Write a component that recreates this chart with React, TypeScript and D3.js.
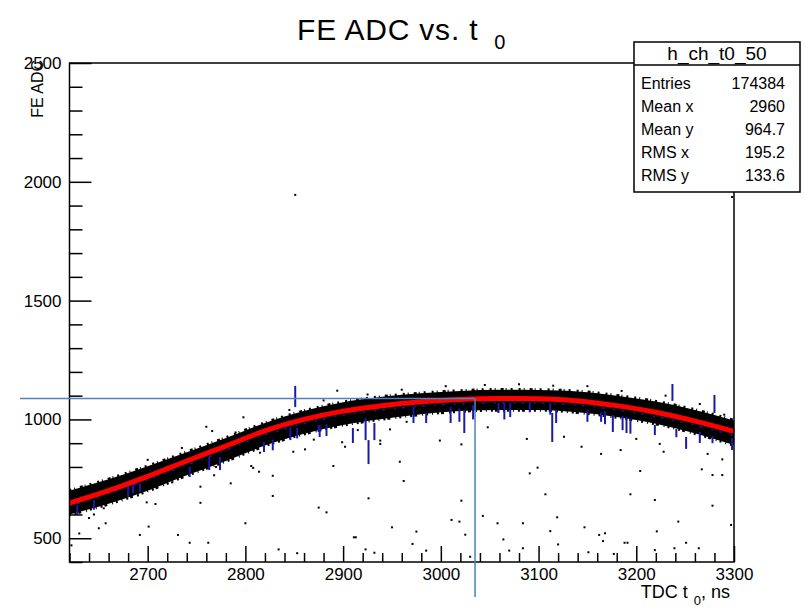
import React, { useEffect, useRef } from 'react';
import * as d3 from 'd3';

// axis ticks
const xTicks = [2700, 2800, 2900, 3000, 3100, 3200, 3300];
const yTicks = [500, 1000, 1500, 2000, 2500];

// stats box
const statsTitle = 'h_ch_t0_50';
const statsLabels = ['Entries', 'Mean x', 'Mean y', 'RMS x', 'RMS y'];
const statsValues = ['174384', '2960', '964.7', '195.2', '133.6'];

// x positions of the band samples
const bandX = [2620, 2660, 2700, 2740, 2780, 2820, 2860, 2900, 2940, 2980, 3020, 3060, 3100, 3140, 3180, 3220, 3260, 3300];
const bandHi = [700, 748, 803, 862, 922, 985, 1035, 1072, 1095, 1110, 1120, 1125, 1124, 1118, 1100, 1075, 1040, 995];
const bandLo = [600, 645, 700, 765, 825, 890, 940, 977, 1002, 1022, 1035, 1040, 1040, 1030, 1010, 982, 942, 892];
const fitY = [648, 700, 760, 825, 888, 952, 1000, 1035, 1058, 1074, 1084, 1088, 1087, 1078, 1058, 1030, 993, 950];
const profY = [635, 688, 745, 808, 870, 935, 982, 1018, 1040, 1056, 1066, 1070, 1069, 1060, 1040, 1012, 975, 932];

// isolated entries [x, y]
const outliers = [
  [2798, 1009], [2760, 969], [2766, 951], [2655, 626], [2657, 563], [2650, 542], [2699, 651], [2708, 644],
  [2701, 549], [2692, 514], [2731, 514], [2743, 481], [2762, 481], [2754, 717], [2754, 649], [2768, 765],
  [2785, 731], [2800, 563], [2828, 763], [2828, 678], [2849, 864], [2861, 874], [2875, 629], [2806, 804],
  [2808, 796], [2814, 780], [2834, 453], [2853, 437], [2894, 1121], [2890, 804], [2899, 904], [2902, 885],
  [2926, 668], [2938, 911], [2938, 897], [2948, 958], [2958, 822], [2962, 741], [2883, 609], [2911, 504],
  [2913, 504], [2923, 453], [2932, 439], [2950, 546], [2971, 476], [2975, 528], [2985, 448], [2999, 911],
  [3011, 577], [3019, 570], [3021, 658], [3021, 895], [3025, 515], [3030, 422], [3043, 594], [3048, 967],
  [3058, 563], [3064, 495], [3070, 448], [3084, 563], [3084, 458], [3088, 918], [3091, 773], [3099, 797],
  [3107, 685], [3112, 530], [3119, 588], [3120, 474], [3126, 927], [3144, 885], [3151, 441], [3164, 855],
  [3147, 546], [3162, 514], [3168, 521], [3166, 488], [3177, 434], [3184, 871], [3188, 481], [3191, 481],
  [3194, 685], [3204, 783], [3200, 918], [3219, 661], [3221, 529], [3219, 450], [3224, 897], [3228, 864],
  [3239, 458], [3243, 570], [3251, 481], [3264, 458], [3267, 790], [3273, 855], [3278, 766], [3278, 637],
  [3288, 832], [3288, 766], [3297, 556], [2851, 1945], [3298, 1936], [2622, 470], [2630, 520], [2640, 585],
  [2700, 830], [2735, 880], [2790, 945], [2845, 1040], [2880, 1080], [2925, 1105], [2960, 1125], [3005, 1140],
  [3045, 1145], [3080, 1148], [3115, 1142], [3150, 1140], [3185, 1120], [3230, 1100], [3265, 1065], [3290, 1020],
  [2645, 600], [2690, 680], [2725, 735], [2770, 800], [2815, 860], [2870, 915], [2915, 955], [2965, 990],
];

// profile error bars [x, low, high]
const profBars = [
  [2851, 1052, 1141], [2875, 947, 977], [2774, 787, 842], [2763, 787, 842], [2743, 758, 800], [2692, 695, 732],
  [2680, 674, 724], [2685, 690, 735], [2819, 863, 905], [2828, 870, 915], [2846, 913, 968], [2853, 920, 965],
  [2876, 926, 977], [2883, 930, 980], [2910, 901, 964], [2923, 913, 1006], [2926, 812, 913], [2932, 913, 985],
  [2972, 985, 1052], [2985, 985, 1027], [3010, 985, 1052], [3019, 990, 1045], [3024, 943, 1040], [3033, 1000, 1060],
  [3059, 1027, 1069], [3065, 1000, 1069], [3071, 1010, 1069], [3091, 1030, 1075], [3112, 1020, 1070], [3114, 905, 1027],
  [3118, 985, 1040], [3150, 990, 1040], [3164, 990, 1030], [3168, 980, 1035], [3176, 947, 1019], [3186, 955, 1015],
  [3190, 943, 1010], [3194, 940, 1005], [3219, 934, 977], [3237, 1078, 1149], [3241, 925, 960], [3251, 876, 926],
  [3265, 901, 947], [3280, 1027, 1103], [3278, 900, 930], [3298, 871, 922], [2628, 600, 640], [2645, 620, 660],
];

// crosshair position
const crossX = 3035;
const crossY = 1088;

const W = 805;
const H = 610;
const frame = { left: 69.5, right: 734, top: 63, bottom: 562 };
const font = "'Liberation Sans', Arial, Helvetica, sans-serif";

const App = () => {
  const ref = useRef<SVGSVGElement>(null);

  useEffect(() => {
    const svg = d3.select(ref.current);
    svg.selectAll('*').remove();

    const x = d3.scaleLinear().domain([2620, 3300]).range([frame.left, frame.right]);
    const y = d3.scaleLinear().domain([400, 2500]).range([frame.bottom, frame.top]);

    svg.append('rect').attr('width', W).attr('height', H).attr('fill', '#fff');

    const plot = svg.append('g');

    // dense band of entries
    const idx = d3.range(bandX.length);
    const band = d3.area<number>()
      .x(i => x(bandX[i]))
      .y0(i => y(bandLo[i]))
      .y1(i => y(bandHi[i]))
      .curve(d3.curveMonotoneX);
    plot.append('path').attr('d', band(idx)).attr('fill', '#000');

    const edge = (arr: number[]) => d3.line<number>()
      .x(i => x(bandX[i]))
      .y(i => y(arr[i]))
      .curve(d3.curveMonotoneX)(idx);
    [bandHi, bandLo].forEach((arr, k) => {
      plot.append('path').attr('d', edge(arr)).attr('fill', 'none')
        .attr('stroke', '#000').attr('stroke-width', 3.5)
        .attr('stroke-dasharray', k === 0 ? '2 3 1 5 3 2 1 4 2 6' : '1 4 2 2 3 5 1 3 2 4');
    });

    // profile
    plot.append('path').attr('d', edge(profY)).attr('fill', 'none')
      .attr('stroke', '#1a1aa6').attr('stroke-width', 1.5).attr('stroke-dasharray', '2 6 3 9');

    plot.selectAll('.pbar').data(profBars).enter().append('line')
      .attr('x1', d => x(d[0])).attr('x2', d => x(d[0]))
      .attr('y1', d => y(d[1])).attr('y2', d => y(d[2]))
      .attr('stroke', '#1a1aa6').attr('stroke-width', 2);

    // fit
    plot.append('path').attr('d', edge(fitY)).attr('fill', 'none')
      .attr('stroke', '#ff0000').attr('stroke-width', 5);

    plot.selectAll('.dot').data(outliers).enter().append('rect')
      .attr('x', d => x(d[0]) - 1).attr('y', d => y(d[1]) - 1)
      .attr('width', 2).attr('height', 2).attr('fill', '#000');

    // frame
    svg.append('rect')
      .attr('x', frame.left).attr('y', frame.top)
      .attr('width', frame.right - frame.left).attr('height', frame.bottom - frame.top)
      .attr('fill', 'none').attr('stroke', '#000').attr('stroke-width', 1.5);

    // x axis
    const xMinor = d3.range(2620, 3301, 20).filter(v => !xTicks.includes(v));
    svg.append('g').attr('transform', `translate(0,${frame.bottom})`)
      .call(d3.axisBottom(x).tickValues(xMinor).tickSize(-9).tickFormat(() => ''))
      .call(g => g.select('.domain').remove());
    const gx = svg.append('g').attr('transform', `translate(0,${frame.bottom})`)
      .call(d3.axisBottom(x).tickValues(xTicks).tickSize(-16).tickPadding(6).tickFormat(d => String(d)))
      .call(g => g.select('.domain').remove());
    gx.selectAll('text').attr('font-size', 17).attr('font-family', font).attr('fill', '#000');

    // y axis
    const yMinor = d3.range(400, 2501, 100).filter(v => !yTicks.includes(v));
    svg.append('g').attr('transform', `translate(${frame.left},0)`)
      .call(d3.axisLeft(y).tickValues(yMinor).tickSize(-13).tickFormat(() => ''))
      .call(g => g.select('.domain').remove());
    const gy = svg.append('g').attr('transform', `translate(${frame.left},0)`)
      .call(d3.axisLeft(y).tickValues(yTicks).tickSize(-22).tickPadding(8).tickFormat(d => String(d)))
      .call(g => g.select('.domain').remove());
    gy.selectAll('text').attr('font-size', 17).attr('font-family', font).attr('fill', '#000');
    svg.selectAll('.tick line').attr('stroke', '#000').attr('stroke-width', 1.5);

    // crosshair
    svg.append('line').attr('x1', 20).attr('x2', x(crossX)).attr('y1', y(crossY)).attr('y2', y(crossY))
      .attr('stroke', '#4f81bd').attr('stroke-width', 1.5);
    svg.append('line').attr('x1', x(crossX)).attr('x2', x(crossX)).attr('y1', y(crossY)).attr('y2', 597)
      .attr('stroke', '#4f81bd').attr('stroke-width', 1.5);

    // titles
    const title = svg.append('text').attr('x', 297).attr('y', 40)
      .attr('font-family', font).attr('font-size', 30).attr('letter-spacing', 0.8).attr('fill', '#000');
    title.append('tspan').text('FE ADC vs. t');
    title.append('tspan').attr('dx', 16).attr('dy', 9).attr('font-size', 20).attr('letter-spacing', 0).text('0');

    const xt = svg.append('text').attr('x', 730).attr('y', 598).attr('text-anchor', 'end')
      .attr('font-family', font).attr('font-size', 18).attr('fill', '#000');
    xt.append('tspan').text('TDC t');
    xt.append('tspan').attr('dx', 6).attr('dy', 7).attr('font-size', 13).text('0');
    xt.append('tspan').attr('dy', -7).text(', ns');

    svg.append('text').attr('transform', 'translate(43,60) rotate(-90)').attr('text-anchor', 'end')
      .attr('font-family', font).attr('font-size', 16).attr('fill', '#000').text('FE ADC');

    // stats box
    const box = { x0: 634, x1: 800, y0: 42, y1: 192, head: 65 };
    svg.append('rect').attr('x', box.x0).attr('y', box.y0)
      .attr('width', box.x1 - box.x0).attr('height', box.y1 - box.y0)
      .attr('fill', '#fff').attr('stroke', '#000').attr('stroke-width', 1.5);
    svg.append('line').attr('x1', box.x0).attr('x2', box.x1).attr('y1', box.head).attr('y2', box.head)
      .attr('stroke', '#000').attr('stroke-width', 1.5);
    svg.append('text').attr('x', (box.x0 + box.x1) / 2).attr('y', 60).attr('text-anchor', 'middle')
      .attr('font-family', font).attr('font-size', 19).attr('fill', '#000').text(statsTitle);
    statsLabels.forEach((lab, i) => {
      const by = 89 + i * 23;
      svg.append('text').attr('x', 641).attr('y', by).attr('font-family', font)
        .attr('font-size', 16).attr('fill', '#000').text(lab);
      svg.append('text').attr('x', 785).attr('y', by).attr('text-anchor', 'end').attr('font-family', font)
        .attr('font-size', 16).attr('fill', '#000').text(statsValues[i]);
    });
  }, []);

  return <svg ref={ref} width={W} height={H} style={{ display: 'block', position: 'absolute', left: 0, top: 0 }} />;
};

export default App;
